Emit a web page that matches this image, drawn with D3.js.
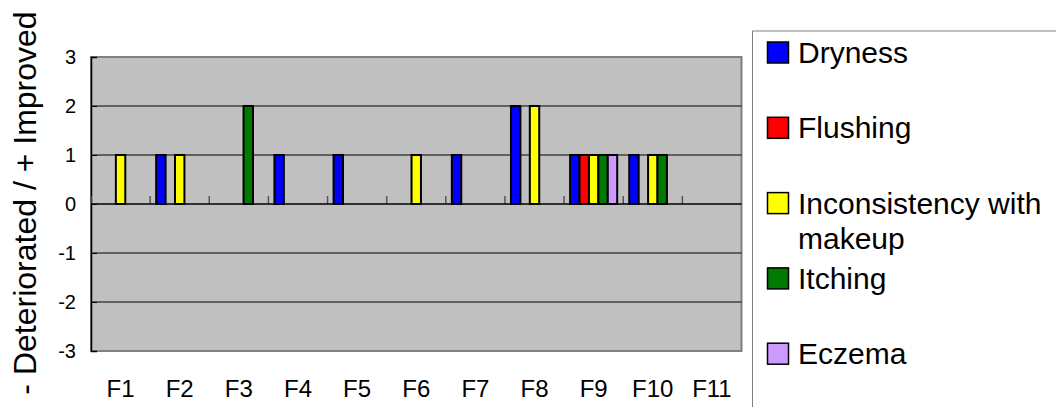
<!DOCTYPE html>
<html>
<head>
<meta charset="utf-8">
<script src="https://cdn.jsdelivr.net/npm/d3@7"></script>
<style>
  body { margin: 0; background: #fff; }
  text { font-family: "Liberation Sans", Arial, sans-serif; fill: #000; }
</style>
</head>
<body>
<div class="skinChart"></div>
<script>
// values
var categories = ['F1', 'F2', 'F3', 'F4', 'F5', 'F6', 'F7', 'F8', 'F9', 'F10', 'F11'];
var seriesNames = ['Dryness', 'Flushing', 'Inconsistency with makeup', 'Itching', 'Eczema'];
var dryness       = [0, 1, 0, 1, 1, 0, 1, 2, 1, 1, 0];
var flushing      = [0, 0, 0, 0, 0, 0, 0, 0, 1, 0, 0];
var inconsistency = [1, 1, 0, 0, 0, 1, 0, 2, 1, 1, 0];
var itching       = [0, 0, 2, 0, 0, 0, 0, 0, 1, 1, 0];
var eczema        = [0, 0, 0, 0, 0, 0, 0, 0, 1, 0, 0];
var yTicks = [-3, -2, -1, 0, 1, 2, 3];
var yTitle = '- Deteriorated / + Improved';

function skinChart() {
    var width = 1056, height = 407
    var plot = {left: 91, top: 57, right: 741.5, bottom: 351}

    var seriesValues = [dryness, flushing, inconsistency, itching, eczema]

    var color = d3.scaleOrdinal()
        .domain(seriesNames)
        .range(['#0000ff', '#ff0000', '#ffff00', '#007a00', '#cc99ff'])

    var x = d3.scaleBand()
        .domain(categories)
        .range([plot.left, plot.right])
        .padding(0)

    var xSeries = d3.scaleBand()
        .domain(seriesNames)
        .range([0, x.bandwidth()])
        .paddingInner(0)
        .paddingOuter(0.64)

    var y = d3.scaleLinear()
        .domain([-3, 3])
        .range([plot.bottom, plot.top])

    const svg = d3.select('.skinChart')
        .append('svg')
        .attr('width', width)
        .attr('height', height)

    // plot area
    svg.append('rect')
        .attr('x', plot.left)
        .attr('y', plot.top)
        .attr('width', plot.right - plot.left)
        .attr('height', plot.bottom - plot.top)
        .attr('fill', '#c0c0c0')
        .attr('stroke', '#808080')
        .attr('stroke-width', 2)

    // gridlines
    svg.selectAll('.grid')
        .data(yTicks.filter(function(d) { return d !== 3 && d !== -3 && d !== 0 }))
        .enter()
        .append('line')
        .attr('x1', plot.left)
        .attr('x2', plot.right)
        .attr('y1', function(d) { return y(d) })
        .attr('y2', function(d) { return y(d) })
        .attr('stroke', '#000')
        .attr('stroke-width', 1)

    // y axis
    var yAxis = d3.axisRight(y)
        .tickValues(yTicks)
        .tickSize(6)
        .tickFormat('')
    svg.append('g')
        .attr('transform', 'translate(' + plot.left + ',0)')
        .call(yAxis)
        .call(function(g) { g.select('.domain').attr('stroke', '#000').attr('stroke-width', 1.5) })
        .call(function(g) { g.selectAll('.tick line').attr('stroke', '#000') })

    svg.selectAll('.ylabel')
        .data(yTicks)
        .enter()
        .append('text')
        .attr('x', 76)
        .attr('y', function(d) { return y(d) })
        .attr('dy', '0.35em')
        .style('text-anchor', 'end')
        .style('font-size', '20px')
        .text(function(d) { return d })

    // bars
    seriesValues.forEach(function(values, s) {
        svg.selectAll('.bar' + s)
            .data(values.map(function(v, i) { return {cat: categories[i], value: v} }).filter(function(d) { return d.value !== 0 }))
            .enter()
            .append('rect')
            .attr('x', function(d) { return x(d.cat) + xSeries(seriesNames[s]) })
            .attr('y', function(d) { return y(Math.max(0, d.value)) })
            .attr('width', xSeries.bandwidth())
            .attr('height', function(d) { return Math.abs(y(d.value) - y(0)) })
            .attr('fill', color(seriesNames[s]))
            .attr('stroke', '#000')
            .style('stroke-width', '2px')
    })

    // category axis crossing at zero
    var xAxis = d3.axisTop(x)
        .tickSize(8)
        .tickFormat('')
    svg.append('g')
        .attr('transform', 'translate(0,' + y(0) + ')')
        .call(xAxis)
        .call(function(g) { g.select('.domain').remove() })
        .call(function(g) { g.selectAll('.tick line').attr('stroke', '#555').attr('stroke-width', 1.5).attr('transform', 'translate(' + (-x.bandwidth() / 2) + ',0)') })

    svg.append('line')
        .attr('x1', plot.left)
        .attr('x2', plot.right)
        .attr('y1', y(0))
        .attr('y2', y(0))
        .attr('stroke', '#000')
        .attr('stroke-width', 1.5)

    svg.selectAll('.xlabel')
        .data(categories)
        .enter()
        .append('text')
        .attr('x', function(d) { return x(d) + x.bandwidth() / 2 })
        .attr('y', 397)
        .style('text-anchor', 'middle')
        .style('font-size', '24px')
        .text(function(d) { return d })

    // y title
    svg.append('text')
        .attr('transform', 'translate(36,203) rotate(-90)')
        .style('text-anchor', 'middle')
        .style('font-size', '32px')
        .text(yTitle)

    // legend
    var legend = svg.append('g')
    legend.append('rect')
        .attr('x', 752.5)
        .attr('y', 31)
        .attr('width', 400)
        .attr('height', 400)
        .attr('fill', '#fff')
        .attr('stroke', '#808080')
        .attr('stroke-width', 1)

    var items = legend.selectAll('.item')
        .data(seriesNames)
        .enter()
        .append('g')
        .attr('transform', function(d, i) { return 'translate(767,' + (63 + i * 75.3) + ')' })

    items.append('rect')
        .attr('x', 0.5)
        .attr('y', -21)
        .attr('width', 21)
        .attr('height', 21)
        .attr('fill', function(d) { return color(d) })
        .attr('stroke', '#000')
        .attr('stroke-width', 1.5)

    items.append('text')
        .attr('x', 31)
        .attr('y', 0)
        .style('font-size', '30px')
        .each(function(d) {
            var t = d3.select(this)
            var words = d.split(' ')
            var line = []
            var tspan = t.append('tspan').attr('x', 31).attr('dy', 0)
            words.forEach(function(w) {
                line.push(w)
                tspan.text(line.join(' '))
                if (tspan.node().getComputedTextLength() > 255 && line.length > 1) {
                    line.pop()
                    tspan.text(line.join(' '))
                    line = [w]
                    tspan = t.append('tspan').attr('x', 31).attr('dy', 35).text(w)
                }
            })
        })
}
skinChart();
</script>
</body>
</html>
